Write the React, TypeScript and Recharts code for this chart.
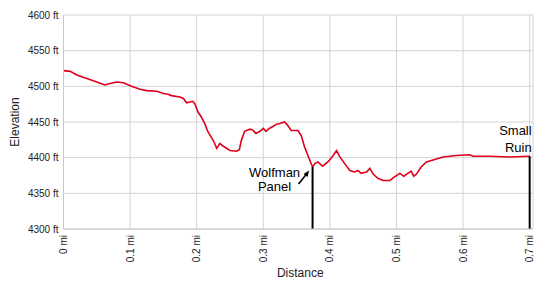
import React from 'react';
import { LineChart, Line, XAxis, YAxis, CartesianGrid, ReferenceLine, ReferenceDot, Label } from 'recharts';

const distances = [0, 0.01, 0.02, 0.035, 0.05, 0.062, 0.07, 0.08, 0.09, 0.102, 0.115, 0.125, 0.14, 0.15, 0.157, 0.162, 0.175, 0.18, 0.185, 0.194, 0.197, 0.202, 0.207, 0.212, 0.217, 0.225, 0.23, 0.235, 0.24, 0.25, 0.26, 0.264, 0.267, 0.272, 0.28, 0.284, 0.289, 0.295, 0.3, 0.304, 0.309, 0.315, 0.32, 0.325, 0.332, 0.336, 0.342, 0.347, 0.352, 0.357, 0.362, 0.37, 0.374, 0.378, 0.382, 0.389, 0.397, 0.405, 0.41, 0.415, 0.422, 0.43, 0.437, 0.442, 0.447, 0.455, 0.46, 0.465, 0.472, 0.48, 0.49, 0.497, 0.505, 0.511, 0.517, 0.522, 0.526, 0.53, 0.537, 0.545, 0.56, 0.57, 0.59, 0.61, 0.615, 0.64, 0.67, 0.7];
const elevations = [4522, 4521, 4516, 4511, 4506, 4502, 4504, 4506, 4505, 4500, 4496, 4494, 4493, 4490, 4489, 4487, 4485, 4483, 4477, 4479, 4476, 4464, 4457, 4448, 4436, 4424, 4413, 4420, 4416, 4410, 4409, 4411, 4424, 4437, 4440, 4439, 4434, 4437, 4441, 4437, 4441, 4444, 4447, 4448, 4450, 4446, 4438, 4438, 4438, 4431, 4415, 4396, 4387, 4392, 4394, 4388, 4394, 4403, 4410, 4401, 4392, 4382, 4380, 4382, 4378, 4380, 4385, 4377, 4371, 4368, 4368, 4373, 4378, 4374, 4378, 4381, 4374, 4377, 4387, 4394, 4398, 4401, 4403, 4404, 4402, 4402, 4401, 4402];

const xTicks = [0, 0.1, 0.2, 0.3, 0.4, 0.5, 0.6, 0.7];
const xTickLabels = ['0 mi', '0.1 mi', '0.2 mi', '0.3 mi', '0.4 mi', '0.5 mi', '0.6 mi', '0.7 mi'];
const yTicks = [4300, 4350, 4400, 4450, 4500, 4550, 4600];
const yTickLabels = ['4300 ft', '4350 ft', '4400 ft', '4450 ft', '4500 ft', '4550 ft', '4600 ft'];

const markerNames = ['Wolfman Panel', 'Small Ruin'];
const markerDistances = [0.374, 0.7];
const markerElevations = [4387, 4402];

const data = distances.map((d, i) => ({ d, e: elevations[i] }));

const FONT = '"Liberation Sans", Arial, sans-serif';

const XTick = (props: any) => {
  const { x, y, payload } = props;
  const idx = xTicks.indexOf(payload.value);
  return (
    <text
      x={0}
      y={0}
      transform={`translate(${x},${y + 4}) rotate(-90)`}
      textAnchor="end"
      dominantBaseline="central"
      fontSize={10}
      fontFamily={FONT}
      fill="#222"
    >
      {idx >= 0 ? xTickLabels[idx] : payload.value}
    </text>
  );
};

const YTick = (props: any) => {
  const { x, y, payload } = props;
  const idx = yTicks.indexOf(payload.value);
  return (
    <text x={x} y={y} textAnchor="end" dominantBaseline="central" fontSize={10} fontFamily={FONT} fill="#222">
      {idx >= 0 ? yTickLabels[idx] : payload.value}
    </text>
  );
};

const ElevationLabel = (props: any) => {
  const vb = props.viewBox || {};
  const x = (vb.x ?? 4) + 14.5;
  const y = (vb.y ?? 0) + (vb.height ?? 0) / 2;
  return (
    <text
      x={0}
      y={0}
      transform={`translate(${x},${y}) rotate(-90)`}
      textAnchor="middle"
      fontSize={12}
      fontFamily={FONT}
      fill="#222"
    >
      Elevation
    </text>
  );
};

const DistanceLabel = (props: any) => {
  const vb = props.viewBox || {};
  const x = (vb.x ?? 0) + (vb.width ?? 0) / 2 + 2;
  const y = (vb.y ?? 0) + (vb.height ?? 0) - 9;
  return (
    <text x={x} y={y} textAnchor="middle" fontSize={12} fontFamily={FONT} fill="#222">
      Distance
    </text>
  );
};

const WolfmanLabel = (props: any) => {
  const vb = props.viewBox || {};
  const cx = vb.x ?? 0;
  const cy = vb.y ?? 0;
  const tx = cx - 38;
  return (
    <g>
      <text x={tx} y={cy + 10} textAnchor="middle" fontSize={13} fontFamily={FONT} fill="#000">Wolfman</text>
      <text x={tx} y={cy + 24.5} textAnchor="middle" fontSize={13} fontFamily={FONT} fill="#000">Panel</text>
      <line x1={cx - 14} y1={cy + 17} x2={cx - 6} y2={cy + 7} stroke="#000" strokeWidth={1.6} />
      <polygon points={`${cx - 3.5},${cy + 3.5} ${cx - 9},${cy + 7} ${cx - 5},${cy + 10}`} fill="#000" />
    </g>
  );
};

const RuinLabel = (props: any) => {
  const vb = props.viewBox || {};
  const cx = vb.x ?? 0;
  const cy = vb.y ?? 0;
  return (
    <g>
      <text x={cx + 2} y={cy - 21} textAnchor="end" fontSize={13} fontFamily={FONT} fill="#000">Small</text>
      <text x={cx + 2} y={cy - 4.5} textAnchor="end" fontSize={13} fontFamily={FONT} fill="#000">Ruin</text>
    </g>
  );
};

export default function App() {
  return (
    <div style={{ position: 'absolute', left: 0, top: 0, width: 550, height: 286, background: '#fff' }}>
      <LineChart width={550} height={286} data={data} margin={{ top: 15, right: 17, bottom: 0, left: 4 }}>
        <CartesianGrid stroke="#d4d4d4" strokeWidth={1} />
        <XAxis
          dataKey="d"
          type="number"
          domain={[0, 0.705]}
          ticks={xTicks}
          interval={0}
          tick={<XTick />}
          tickLine={false}
          tickSize={0}
          axisLine={{ stroke: '#c8c8c8' }}
          height={57}
        >
          <Label content={<DistanceLabel />} />
        </XAxis>
        <YAxis
          type="number"
          domain={[4300, 4600]}
          ticks={yTicks}
          interval={0}
          tick={<YTick />}
          tickLine={false}
          tickSize={0}
          tickMargin={5}
          axisLine={{ stroke: '#c8c8c8' }}
          width={59.5}
        >
          <Label content={<ElevationLabel />} />
        </YAxis>
        <Line
          type="linear"
          dataKey="e"
          stroke="#e0001b"
          strokeWidth={1.6}
          dot={false}
          isAnimationActive={false}
        />
        {markerNames.map((name, i) => (
          <ReferenceLine
            key={name}
            segment={[
              { x: markerDistances[i], y: markerElevations[i] },
              { x: markerDistances[i], y: 4300 },
            ]}
            stroke="#000"
            strokeWidth={2}
          />
        ))}
        <ReferenceDot
          x={markerDistances[0]}
          y={markerElevations[0]}
          r={0}
          fill="none"
          stroke="none"
          label={<WolfmanLabel />}
        />
        <ReferenceDot
          x={markerDistances[1]}
          y={markerElevations[1]}
          r={0}
          fill="none"
          stroke="none"
          label={<RuinLabel />}
        />
      </LineChart>
    </div>
  );
}
